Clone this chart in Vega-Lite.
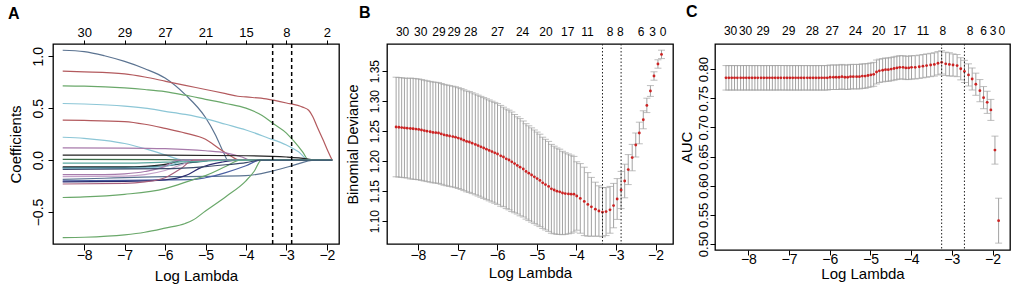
{
"$schema": "https://vega.github.io/schema/vega-lite/v6.json",
"padding": {"left": 7, "top": 3, "right": 0, "bottom": 0},
"spacing": 4,
"config": {
  "font": "Liberation Sans",
  "view": {"stroke": "black", "strokeWidth": 1.3},
  "axis": {"domain": false, "grid": false, "tickColor": "black", "tickWidth": 1, "labelColor": "black", "titleColor": "black", "labelFont": "Liberation Sans", "titleFont": "Liberation Sans", "titleFontWeight": "normal", "labelFlush": false, "labelOverlap": false},
  "title": {"anchor": "start", "frame": "bounds", "fontSize": 16, "fontWeight": "bold", "offset": 0, "font": "Liberation Sans", "color": "black"}
},
"datasets": {
  "coef": [
    {"id":"L1","x":-8.53,"y":1.058},{"id":"L1","x":-8,"y":1.045},{"id":"L1","x":-7.5,"y":1.005},{"id":"L1","x":-7,"y":0.95},{"id":"L1","x":-6.5,"y":0.88},{"id":"L1","x":-6,"y":0.79},{"id":"L1","x":-5.5,"y":0.63},{"id":"L1","x":-5,"y":0.41},{"id":"L1","x":-4.75,"y":0.24},{"id":"L1","x":-4.55,"y":0.07},{"id":"L1","x":-4.45,"y":0},{"id":"L1","x":-1.87,"y":0},
    {"id":"L2","x":-8.53,"y":0.856},{"id":"L2","x":-8,"y":0.85},{"id":"L2","x":-7,"y":0.83},{"id":"L2","x":-6.5,"y":0.8},{"id":"L2","x":-6,"y":0.76},{"id":"L2","x":-5.5,"y":0.72},{"id":"L2","x":-5,"y":0.68},{"id":"L2","x":-4.5,"y":0.64},{"id":"L2","x":-4.2,"y":0.615},{"id":"L2","x":-4,"y":0.608},{"id":"L2","x":-3.5,"y":0.59},{"id":"L2","x":-3,"y":0.55},{"id":"L2","x":-2.6,"y":0.51},{"id":"L2","x":-2.45,"y":0.48},{"id":"L2","x":-2.35,"y":0.42},{"id":"L2","x":-2.24,"y":0.32},{"id":"L2","x":-2.1,"y":0.2},{"id":"L2","x":-2,"y":0.11},{"id":"L2","x":-1.87,"y":0},
    {"id":"L3","x":-8.53,"y":0.715},{"id":"L3","x":-8,"y":0.712},{"id":"L3","x":-7,"y":0.695},{"id":"L3","x":-6.5,"y":0.68},{"id":"L3","x":-6,"y":0.66},{"id":"L3","x":-5.5,"y":0.625},{"id":"L3","x":-5,"y":0.585},{"id":"L3","x":-4.5,"y":0.545},{"id":"L3","x":-4,"y":0.5},{"id":"L3","x":-3.6,"y":0.43},{"id":"L3","x":-3.32,"y":0.35},{"id":"L3","x":-3,"y":0.26},{"id":"L3","x":-2.82,"y":0.185},{"id":"L3","x":-2.6,"y":0.08},{"id":"L3","x":-2.45,"y":0},{"id":"L3","x":-1.87,"y":0},
    {"id":"L4","x":-8.53,"y":0.545},{"id":"L4","x":-8,"y":0.54},{"id":"L4","x":-7,"y":0.52},{"id":"L4","x":-6.5,"y":0.5},{"id":"L4","x":-6,"y":0.47},{"id":"L4","x":-5.5,"y":0.44},{"id":"L4","x":-5,"y":0.4},{"id":"L4","x":-4.5,"y":0.345},{"id":"L4","x":-4,"y":0.29},{"id":"L4","x":-3.5,"y":0.22},{"id":"L4","x":-3,"y":0.145},{"id":"L4","x":-2.7,"y":0.08},{"id":"L4","x":-2.45,"y":0},{"id":"L4","x":-1.87,"y":0},
    {"id":"L5","x":-8.53,"y":0.385},{"id":"L5","x":-8,"y":0.382},{"id":"L5","x":-7,"y":0.37},{"id":"L5","x":-6.5,"y":0.345},{"id":"L5","x":-6,"y":0.305},{"id":"L5","x":-5.5,"y":0.26},{"id":"L5","x":-5,"y":0.2},{"id":"L5","x":-4.66,"y":0.11},{"id":"L5","x":-4.4,"y":0.045},{"id":"L5","x":-4.15,"y":0},{"id":"L5","x":-1.87,"y":0},
    {"id":"L6","x":-8.53,"y":0.22},{"id":"L6","x":-8,"y":0.21},{"id":"L6","x":-7.5,"y":0.19},{"id":"L6","x":-7,"y":0.16},{"id":"L6","x":-6.5,"y":0.11},{"id":"L6","x":-6,"y":0.05},{"id":"L6","x":-5.7,"y":0.012},{"id":"L6","x":-5.5,"y":0},{"id":"L6","x":-1.87,"y":0},
    {"id":"L7","x":-8.53,"y":0.118},{"id":"L7","x":-7,"y":0.116},{"id":"L7","x":-6,"y":0.11},{"id":"L7","x":-5,"y":0.09},{"id":"L7","x":-4.5,"y":0.07},{"id":"L7","x":-4.1,"y":0.03},{"id":"L7","x":-3.9,"y":0},{"id":"L7","x":-1.87,"y":0},
    {"id":"L8","x":-8.53,"y":0.048},{"id":"L8","x":-6,"y":0.047},{"id":"L8","x":-4,"y":0.042},{"id":"L8","x":-3,"y":0.03},{"id":"L8","x":-2.5,"y":0.013},{"id":"L8","x":-2.3,"y":0},{"id":"L8","x":-1.87,"y":0},
    {"id":"L9","x":-8.53,"y":0.007},{"id":"L9","x":-6,"y":0.005},{"id":"L9","x":-5.5,"y":0},{"id":"L9","x":-1.87,"y":0},
    {"id":"L10","x":-8.53,"y":-0.065},{"id":"L10","x":-7,"y":-0.065},{"id":"L10","x":-6.5,"y":-0.06},{"id":"L10","x":-6,"y":-0.042},{"id":"L10","x":-5.7,"y":-0.015},{"id":"L10","x":-5.5,"y":0},{"id":"L10","x":-1.87,"y":0},
    {"id":"L11","x":-8.53,"y":-0.072},{"id":"L11","x":-7,"y":-0.071},{"id":"L11","x":-6,"y":-0.056},{"id":"L11","x":-5.5,"y":-0.03},{"id":"L11","x":-5,"y":-0.008},{"id":"L11","x":-4.9,"y":0},{"id":"L11","x":-1.87,"y":0},
    {"id":"L12","x":-8.53,"y":-0.08},{"id":"L12","x":-7,"y":-0.079},{"id":"L12","x":-6,"y":-0.062},{"id":"L12","x":-5.8,"y":-0.04},{"id":"L12","x":-5.5,"y":0},{"id":"L12","x":-1.87,"y":0},
    {"id":"L13","x":-8.53,"y":-0.14},{"id":"L13","x":-7.5,"y":-0.139},{"id":"L13","x":-7,"y":-0.132},{"id":"L13","x":-6.5,"y":-0.11},{"id":"L13","x":-6,"y":-0.06},{"id":"L13","x":-5.7,"y":0},{"id":"L13","x":-1.87,"y":0},
    {"id":"L14","x":-8.53,"y":-0.16},{"id":"L14","x":-7,"y":-0.155},{"id":"L14","x":-6.5,"y":-0.14},{"id":"L14","x":-6,"y":-0.1},{"id":"L14","x":-5.5,"y":-0.03},{"id":"L14","x":-5.3,"y":0},{"id":"L14","x":-1.87,"y":0},
    {"id":"L15","x":-8.53,"y":-0.185},{"id":"L15","x":-7.5,"y":-0.175},{"id":"L15","x":-7,"y":-0.168},{"id":"L15","x":-6,"y":-0.16},{"id":"L15","x":-5,"y":-0.157},{"id":"L15","x":-4,"y":-0.15},{"id":"L15","x":-3.34,"y":-0.105},{"id":"L15","x":-2.87,"y":-0.055},{"id":"L15","x":-2.3,"y":0},{"id":"L15","x":-1.87,"y":0},
    {"id":"L16","x":-8.53,"y":-0.2},{"id":"L16","x":-7,"y":-0.195},{"id":"L16","x":-6,"y":-0.19},{"id":"L16","x":-5.32,"y":-0.188},{"id":"L16","x":-5,"y":-0.17},{"id":"L16","x":-4.5,"y":-0.12},{"id":"L16","x":-4,"y":-0.055},{"id":"L16","x":-3.65,"y":0},{"id":"L16","x":-1.87,"y":0},
    {"id":"L17","x":-8.53,"y":-0.21},{"id":"L17","x":-7,"y":-0.205},{"id":"L17","x":-6,"y":-0.19},{"id":"L17","x":-5.5,"y":-0.15},{"id":"L17","x":-5.1,"y":-0.07},{"id":"L17","x":-4.6,"y":-0.02},{"id":"L17","x":-4.2,"y":0},{"id":"L17","x":-1.87,"y":0},
    {"id":"L18","x":-8.53,"y":-0.23},{"id":"L18","x":-7,"y":-0.225},{"id":"L18","x":-6.5,"y":-0.21},{"id":"L18","x":-6,"y":-0.17},{"id":"L18","x":-5.6,"y":-0.08},{"id":"L18","x":-5.3,"y":0},{"id":"L18","x":-1.87,"y":0},
    {"id":"L19","x":-8.53,"y":-0.36},{"id":"L19","x":-8,"y":-0.355},{"id":"L19","x":-7,"y":-0.33},{"id":"L19","x":-6,"y":-0.275},{"id":"L19","x":-5.32,"y":-0.19},{"id":"L19","x":-5,"y":-0.15},{"id":"L19","x":-4.49,"y":-0.06},{"id":"L19","x":-4.15,"y":0},{"id":"L19","x":-1.87,"y":0},
    {"id":"L20","x":-8.53,"y":-0.747},{"id":"L20","x":-8,"y":-0.743},{"id":"L20","x":-7,"y":-0.72},{"id":"L20","x":-6.5,"y":-0.695},{"id":"L20","x":-6,"y":-0.655},{"id":"L20","x":-5.5,"y":-0.61},{"id":"L20","x":-5.32,"y":-0.58},{"id":"L20","x":-5,"y":-0.49},{"id":"L20","x":-4.49,"y":-0.35},{"id":"L20","x":-4,"y":-0.2},{"id":"L20","x":-3.8,"y":-0.11},{"id":"L20","x":-3.62,"y":0},{"id":"L20","x":-1.87,"y":0},
    {"id":"L21","x":-8.53,"y":-0.03},{"id":"L21","x":-7,"y":-0.03},{"id":"L21","x":-6,"y":-0.02},{"id":"L21","x":-5,"y":-0.01},{"id":"L21","x":-4.5,"y":0},{"id":"L21","x":-1.87,"y":0},
    {"id":"L22","x":-8.53,"y":-0.09},{"id":"L22","x":-6,"y":-0.083},{"id":"L22","x":-5,"y":-0.062},{"id":"L22","x":-4.5,"y":-0.045},{"id":"L22","x":-4,"y":-0.025},{"id":"L22","x":-3.65,"y":0},{"id":"L22","x":-1.87,"y":0}
  ],
  "vA": [{"v": -3.34}, {"v": -2.87}],
  "vB": [{"v": -3.34}, {"v": -2.87}],
  "vC": [{"v": -3.25}, {"v": -2.69}],
  "bdev": [
    {"x":-8.55,"m":1.257,"lo":1.174,"hi":1.34},
    {"x":-8.48,"m":1.2565,"lo":1.1735,"hi":1.3395},
    {"x":-8.41,"m":1.256,"lo":1.173,"hi":1.339},
    {"x":-8.34,"m":1.2555,"lo":1.1725,"hi":1.3385},
    {"x":-8.27,"m":1.255,"lo":1.172,"hi":1.338},
    {"x":-8.19,"m":1.2545,"lo":1.1705,"hi":1.3385},
    {"x":-8.12,"m":1.254,"lo":1.17,"hi":1.338},
    {"x":-8.05,"m":1.2535,"lo":1.1695,"hi":1.3375},
    {"x":-7.98,"m":1.253,"lo":1.169,"hi":1.337},
    {"x":-7.91,"m":1.252,"lo":1.168,"hi":1.336},
    {"x":-7.84,"m":1.251,"lo":1.167,"hi":1.335},
    {"x":-7.77,"m":1.25,"lo":1.166,"hi":1.334},
    {"x":-7.69,"m":1.249,"lo":1.165,"hi":1.333},
    {"x":-7.62,"m":1.248,"lo":1.164,"hi":1.332},
    {"x":-7.55,"m":1.2475,"lo":1.1635,"hi":1.3315},
    {"x":-7.48,"m":1.247,"lo":1.163,"hi":1.331},
    {"x":-7.41,"m":1.2455,"lo":1.1615,"hi":1.3295},
    {"x":-7.34,"m":1.244,"lo":1.16,"hi":1.328},
    {"x":-7.27,"m":1.243,"lo":1.159,"hi":1.327},
    {"x":-7.2,"m":1.242,"lo":1.158,"hi":1.326},
    {"x":-7.12,"m":1.241,"lo":1.157,"hi":1.325},
    {"x":-7.05,"m":1.24,"lo":1.156,"hi":1.324},
    {"x":-6.98,"m":1.2385,"lo":1.1545,"hi":1.3225},
    {"x":-6.91,"m":1.237,"lo":1.153,"hi":1.321},
    {"x":-6.84,"m":1.235,"lo":1.151,"hi":1.319},
    {"x":-6.77,"m":1.233,"lo":1.149,"hi":1.317},
    {"x":-6.7,"m":1.232,"lo":1.148,"hi":1.316},
    {"x":-6.63,"m":1.23,"lo":1.146,"hi":1.314},
    {"x":-6.55,"m":1.228,"lo":1.144,"hi":1.312},
    {"x":-6.48,"m":1.226,"lo":1.142,"hi":1.31},
    {"x":-6.41,"m":1.224,"lo":1.14,"hi":1.308},
    {"x":-6.34,"m":1.222,"lo":1.138,"hi":1.306},
    {"x":-6.27,"m":1.22,"lo":1.136,"hi":1.304},
    {"x":-6.2,"m":1.218,"lo":1.134,"hi":1.302},
    {"x":-6.13,"m":1.216,"lo":1.132,"hi":1.3},
    {"x":-6.06,"m":1.214,"lo":1.13,"hi":1.298},
    {"x":-5.99,"m":1.212,"lo":1.128,"hi":1.296},
    {"x":-5.91,"m":1.209,"lo":1.125,"hi":1.293},
    {"x":-5.84,"m":1.207,"lo":1.124,"hi":1.29},
    {"x":-5.77,"m":1.204,"lo":1.121,"hi":1.287},
    {"x":-5.7,"m":1.202,"lo":1.119,"hi":1.285},
    {"x":-5.63,"m":1.199,"lo":1.116,"hi":1.282},
    {"x":-5.56,"m":1.196,"lo":1.114,"hi":1.278},
    {"x":-5.49,"m":1.193,"lo":1.112,"hi":1.274},
    {"x":-5.42,"m":1.19,"lo":1.109,"hi":1.271},
    {"x":-5.34,"m":1.187,"lo":1.107,"hi":1.267},
    {"x":-5.27,"m":1.183,"lo":1.1035,"hi":1.2625},
    {"x":-5.2,"m":1.18,"lo":1.101,"hi":1.259},
    {"x":-5.13,"m":1.177,"lo":1.0985,"hi":1.2555},
    {"x":-5.06,"m":1.174,"lo":1.096,"hi":1.252},
    {"x":-4.99,"m":1.171,"lo":1.0935,"hi":1.2485},
    {"x":-4.92,"m":1.168,"lo":1.091,"hi":1.245},
    {"x":-4.85,"m":1.164,"lo":1.088,"hi":1.24},
    {"x":-4.78,"m":1.161,"lo":1.0855,"hi":1.2365},
    {"x":-4.7,"m":1.158,"lo":1.083,"hi":1.233},
    {"x":-4.63,"m":1.154,"lo":1.08,"hi":1.228},
    {"x":-4.56,"m":1.152,"lo":1.079,"hi":1.225},
    {"x":-4.49,"m":1.15,"lo":1.078,"hi":1.222},
    {"x":-4.42,"m":1.149,"lo":1.078,"hi":1.22},
    {"x":-4.35,"m":1.147,"lo":1.0775,"hi":1.2165},
    {"x":-4.28,"m":1.146,"lo":1.078,"hi":1.214},
    {"x":-4.2,"m":1.1455,"lo":1.079,"hi":1.212},
    {"x":-4.13,"m":1.145,"lo":1.08,"hi":1.21},
    {"x":-4.06,"m":1.145,"lo":1.082,"hi":1.208},
    {"x":-3.99,"m":1.142,"lo":1.085,"hi":1.199},
    {"x":-3.9,"m":1.138,"lo":1.08,"hi":1.196},
    {"x":-3.8,"m":1.133,"lo":1.076,"hi":1.19},
    {"x":-3.71,"m":1.128,"lo":1.075,"hi":1.181},
    {"x":-3.62,"m":1.124,"lo":1.075,"hi":1.173},
    {"x":-3.52,"m":1.12,"lo":1.075,"hi":1.165},
    {"x":-3.43,"m":1.117,"lo":1.075,"hi":1.159},
    {"x":-3.34,"m":1.115,"lo":1.074,"hi":1.156},
    {"x":-3.25,"m":1.116,"lo":1.076,"hi":1.156},
    {"x":-3.15,"m":1.119,"lo":1.08,"hi":1.158},
    {"x":-3.06,"m":1.126,"lo":1.089,"hi":1.163},
    {"x":-2.97,"m":1.137,"lo":1.103,"hi":1.171},
    {"x":-2.87,"m":1.152,"lo":1.121,"hi":1.183},
    {"x":-2.78,"m":1.167,"lo":1.139,"hi":1.195},
    {"x":-2.69,"m":1.186,"lo":1.161,"hi":1.211},
    {"x":-2.59,"m":1.206,"lo":1.184,"hi":1.228},
    {"x":-2.5,"m":1.227,"lo":1.207,"hi":1.247},
    {"x":-2.41,"m":1.247,"lo":1.229,"hi":1.265},
    {"x":-2.31,"m":1.269,"lo":1.254,"hi":1.284},
    {"x":-2.22,"m":1.293,"lo":1.281,"hi":1.305},
    {"x":-2.13,"m":1.317,"lo":1.308,"hi":1.326},
    {"x":-2.04,"m":1.342,"lo":1.335,"hi":1.349},
    {"x":-1.94,"m":1.362,"lo":1.355,"hi":1.369},
    {"x":-1.85,"m":1.378,"lo":1.371,"hi":1.385}
  ],
  "auc": [
    {"x":-8.55,"m":0.785,"lo":0.764,"hi":0.806},
    {"x":-8.48,"m":0.785,"lo":0.764,"hi":0.806},
    {"x":-8.41,"m":0.785,"lo":0.764,"hi":0.806},
    {"x":-8.34,"m":0.785,"lo":0.764,"hi":0.806},
    {"x":-8.27,"m":0.785,"lo":0.764,"hi":0.806},
    {"x":-8.19,"m":0.785,"lo":0.764,"hi":0.806},
    {"x":-8.12,"m":0.785,"lo":0.764,"hi":0.806},
    {"x":-8.05,"m":0.785,"lo":0.764,"hi":0.806},
    {"x":-7.98,"m":0.785,"lo":0.764,"hi":0.806},
    {"x":-7.91,"m":0.785,"lo":0.764,"hi":0.806},
    {"x":-7.84,"m":0.785,"lo":0.764,"hi":0.806},
    {"x":-7.77,"m":0.785,"lo":0.764,"hi":0.806},
    {"x":-7.69,"m":0.785,"lo":0.764,"hi":0.806},
    {"x":-7.62,"m":0.785,"lo":0.764,"hi":0.806},
    {"x":-7.55,"m":0.785,"lo":0.764,"hi":0.806},
    {"x":-7.48,"m":0.785,"lo":0.764,"hi":0.806},
    {"x":-7.41,"m":0.785,"lo":0.764,"hi":0.806},
    {"x":-7.34,"m":0.785,"lo":0.764,"hi":0.806},
    {"x":-7.27,"m":0.785,"lo":0.764,"hi":0.806},
    {"x":-7.2,"m":0.785,"lo":0.764,"hi":0.806},
    {"x":-7.12,"m":0.785,"lo":0.764,"hi":0.806},
    {"x":-7.05,"m":0.785,"lo":0.764,"hi":0.806},
    {"x":-6.98,"m":0.785,"lo":0.764,"hi":0.806},
    {"x":-6.91,"m":0.785,"lo":0.764,"hi":0.806},
    {"x":-6.84,"m":0.785,"lo":0.764,"hi":0.806},
    {"x":-6.77,"m":0.785,"lo":0.764,"hi":0.806},
    {"x":-6.7,"m":0.785,"lo":0.764,"hi":0.806},
    {"x":-6.63,"m":0.785,"lo":0.764,"hi":0.806},
    {"x":-6.55,"m":0.785,"lo":0.764,"hi":0.806},
    {"x":-6.48,"m":0.785,"lo":0.764,"hi":0.806},
    {"x":-6.41,"m":0.785,"lo":0.764,"hi":0.806},
    {"x":-6.34,"m":0.785,"lo":0.764,"hi":0.806},
    {"x":-6.27,"m":0.785,"lo":0.764,"hi":0.806},
    {"x":-6.2,"m":0.785,"lo":0.764,"hi":0.806},
    {"x":-6.13,"m":0.785,"lo":0.764,"hi":0.806},
    {"x":-6.06,"m":0.785,"lo":0.764,"hi":0.806},
    {"x":-5.99,"m":0.786,"lo":0.765,"hi":0.807},
    {"x":-5.91,"m":0.786,"lo":0.765,"hi":0.807},
    {"x":-5.84,"m":0.786,"lo":0.765,"hi":0.807},
    {"x":-5.77,"m":0.786,"lo":0.765,"hi":0.807},
    {"x":-5.7,"m":0.787,"lo":0.766,"hi":0.808},
    {"x":-5.63,"m":0.786,"lo":0.765,"hi":0.807},
    {"x":-5.56,"m":0.786,"lo":0.765,"hi":0.807},
    {"x":-5.49,"m":0.787,"lo":0.766,"hi":0.808},
    {"x":-5.42,"m":0.787,"lo":0.766,"hi":0.808},
    {"x":-5.34,"m":0.787,"lo":0.766,"hi":0.808},
    {"x":-5.27,"m":0.787,"lo":0.766,"hi":0.808},
    {"x":-5.2,"m":0.788,"lo":0.767,"hi":0.809},
    {"x":-5.13,"m":0.788,"lo":0.767,"hi":0.809},
    {"x":-5.06,"m":0.789,"lo":0.7685,"hi":0.8095},
    {"x":-4.99,"m":0.79,"lo":0.7695,"hi":0.8105},
    {"x":-4.92,"m":0.791,"lo":0.7705,"hi":0.8115},
    {"x":-4.85,"m":0.795,"lo":0.7745,"hi":0.8155},
    {"x":-4.78,"m":0.797,"lo":0.777,"hi":0.817},
    {"x":-4.7,"m":0.798,"lo":0.778,"hi":0.818},
    {"x":-4.63,"m":0.799,"lo":0.779,"hi":0.819},
    {"x":-4.56,"m":0.799,"lo":0.779,"hi":0.819},
    {"x":-4.49,"m":0.8,"lo":0.78,"hi":0.82},
    {"x":-4.42,"m":0.801,"lo":0.781,"hi":0.821},
    {"x":-4.35,"m":0.802,"lo":0.782,"hi":0.822},
    {"x":-4.28,"m":0.803,"lo":0.783,"hi":0.823},
    {"x":-4.2,"m":0.803,"lo":0.783,"hi":0.823},
    {"x":-4.13,"m":0.802,"lo":0.782,"hi":0.822},
    {"x":-4.06,"m":0.802,"lo":0.782,"hi":0.822},
    {"x":-3.99,"m":0.803,"lo":0.783,"hi":0.823},
    {"x":-3.9,"m":0.803,"lo":0.783,"hi":0.823},
    {"x":-3.8,"m":0.804,"lo":0.784,"hi":0.824},
    {"x":-3.71,"m":0.805,"lo":0.785,"hi":0.825},
    {"x":-3.62,"m":0.806,"lo":0.786,"hi":0.826},
    {"x":-3.52,"m":0.807,"lo":0.787,"hi":0.827},
    {"x":-3.43,"m":0.808,"lo":0.788,"hi":0.828},
    {"x":-3.34,"m":0.81,"lo":0.79,"hi":0.83},
    {"x":-3.25,"m":0.8115,"lo":0.7915,"hi":0.8315},
    {"x":-3.15,"m":0.809,"lo":0.789,"hi":0.829},
    {"x":-3.06,"m":0.808,"lo":0.788,"hi":0.828},
    {"x":-2.97,"m":0.807,"lo":0.788,"hi":0.826},
    {"x":-2.87,"m":0.806,"lo":0.787,"hi":0.825},
    {"x":-2.78,"m":0.8005,"lo":0.7815,"hi":0.8195},
    {"x":-2.69,"m":0.796,"lo":0.777,"hi":0.815},
    {"x":-2.59,"m":0.79,"lo":0.771,"hi":0.809},
    {"x":-2.5,"m":0.783,"lo":0.764,"hi":0.802},
    {"x":-2.41,"m":0.774,"lo":0.755,"hi":0.793},
    {"x":-2.31,"m":0.763,"lo":0.744,"hi":0.782},
    {"x":-2.22,"m":0.751,"lo":0.732,"hi":0.77},
    {"x":-2.13,"m":0.743,"lo":0.724,"hi":0.762},
    {"x":-2.04,"m":0.73,"lo":0.712,"hi":0.748},
    {"x":-1.94,"m":0.661,"lo":0.637,"hi":0.685},
    {"x":-1.85,"m":0.54,"lo":0.5015,"hi":0.5785}
  ]
},
"hconcat": [
  {
    "width": 286, "height": 200,
    "title": {"text": "A"},
    "layer": [
      {
        "data": {"name": "coef"},
        "mark": {"type": "line", "interpolate": "monotone", "strokeWidth": 1.2},
        "encoding": {
          "x": {"field": "x", "type": "quantitative", "scale": {"domain": [-8.77, -1.7], "nice": false, "zero": false},
                "axis": {"orient": "bottom", "values": [-8,-7,-6,-5,-4,-3,-2], "format": "d", "title": "Log Lambda", "tickSize": 6, "labelPadding": -2, "labelFontSize": 14, "titleFontSize": 15, "titlePadding": 6}},
          "y": {"field": "y", "type": "quantitative", "scale": {"domain": [-0.808, 1.118], "nice": false, "zero": false},
                "axis": {"values": [-0.5, 0, 0.5, 1], "format": ".1f", "title": "Coefficients", "tickSize": 5, "labelPadding": 3, "labelFontSize": 14, "labelAngle": 270, "labelAlign": "center", "labelBaseline": "bottom", "titleFontSize": 15, "titlePadding": 8}},
          "color": {"field": "id", "type": "nominal", "legend": null,
                    "scale": {"domain": ["L1","L2","L3","L4","L5","L6","L7","L8","L9","L10","L11","L12","L13","L14","L15","L16","L17","L18","L19","L20","L21","L22"],
                              "range": ["#5b7391","#b35a5e","#6aa86a","#8cc6d6","#b35a5e","#8cc6d6","#a77aab","#222222","#3e6e4c","#222222","#2b5a64","#8cc6d6","#a77aab","#c4a2c9","#5b7391","#4b60a3","#2c2c70","#a8607c","#6aa86a","#6aa86a","#5ba8a0","#3b4a6b"]}}
        }
      },
      {
        "data": {"name": "vA"},
        "mark": {"type": "rule", "strokeDash": [4, 3], "strokeWidth": 1.5, "color": "black"},
        "encoding": {
          "x": {"field": "v", "type": "quantitative", "scale": {"domain": [-8.77, -1.7], "nice": false, "zero": false},
                "axis": {"orient": "top", "values": [-8,-7,-6,-5,-4,-3,-2], "labelExpr": "['30','29','27','21','15','8','2'][datum.value + 8]", "title": null, "tickSize": 4, "labelPadding": 1, "labelFontSize": 13}}
        }
      }
    ],
    "resolve": {"axis": {"x": "independent"}}
  },
  {
    "width": 286, "height": 200,
    "title": {"text": "B", "dx": 14},
    "layer": [
      {
        "data": {"name": "bdev"},
        "mark": {"type": "rule", "color": "#a3a3a3", "strokeWidth": 1},
        "encoding": {
          "x": {"field": "x", "type": "quantitative", "scale": {"domain": [-8.78, -1.56], "nice": false, "zero": false},
                "axis": {"orient": "bottom", "values": [-8,-7,-6,-5,-4,-3,-2], "format": "d", "title": "Log Lambda", "tickSize": 6, "labelPadding": -2, "labelFontSize": 14, "titleFontSize": 15, "titlePadding": 3}},
          "y": {"field": "lo", "type": "quantitative", "scale": {"domain": [1.062, 1.3953], "nice": false, "zero": false},
                "axis": {"values": [1.1, 1.15, 1.2, 1.25, 1.3, 1.35], "format": ".2f", "title": "Binomial Deviance", "tickSize": 5, "labelPadding": 0.5, "labelFontSize": 12, "labelAngle": 270, "labelAlign": "center", "labelBaseline": "bottom", "titleFontSize": 14.5, "titlePadding": 8.5}},
          "y2": {"field": "hi"}
        }
      },
      {
        "data": {"name": "bdev"},
        "mark": {"type": "tick", "orient": "horizontal", "color": "#a3a3a3", "size": 7, "thickness": 1},
        "encoding": {
          "x": {"field": "x", "type": "quantitative", "axis": null},
          "y": {"field": "hi", "type": "quantitative", "axis": null}
        }
      },
      {
        "data": {"name": "bdev"},
        "mark": {"type": "tick", "orient": "horizontal", "color": "#a3a3a3", "size": 7, "thickness": 1},
        "encoding": {
          "x": {"field": "x", "type": "quantitative", "axis": null},
          "y": {"field": "lo", "type": "quantitative", "axis": null}
        }
      },
      {
        "data": {"name": "bdev"},
        "mark": {"type": "circle", "color": "#cc2222", "size": 8, "opacity": 1},
        "encoding": {
          "x": {"field": "x", "type": "quantitative", "axis": null},
          "y": {"field": "m", "type": "quantitative", "axis": null}
        }
      },
      {
        "data": {"name": "vB"},
        "mark": {"type": "rule", "strokeDash": [1.5, 2], "strokeWidth": 1, "color": "#222222"},
        "encoding": {
          "x": {"field": "v", "type": "quantitative", "scale": {"domain": [-8.78, -1.56], "nice": false, "zero": false},
                "axis": {"orient": "top", "values": [-8.4,-7.94,-7.48,-7.1,-6.68,-6,-5.37,-4.78,-4.23,-3.73,-3.16,-2.9,-2.38,-2.09,-1.82],
                         "labelExpr": "['30','30','29','29','28','27','24','20','17','11','8','8','6','3','0'][indexof([-8.4,-7.94,-7.48,-7.1,-6.68,-6,-5.37,-4.78,-4.23,-3.73,-3.16,-2.9,-2.38,-2.09,-1.82], datum.value)]",
                         "title": null, "ticks": false, "labelPadding": 6, "labelFontSize": 12}}
        }
      }
    ],
    "resolve": {"axis": {"x": "independent", "y": "independent"}}
  },
  {
    "width": 295, "height": 206,
    "title": {"text": "C", "dx": 7},
    "layer": [
      {
        "data": {"name": "auc"},
        "mark": {"type": "rule", "color": "#a3a3a3", "strokeWidth": 1},
        "encoding": {
          "x": {"field": "x", "type": "quantitative", "scale": {"domain": [-8.82, -1.57], "nice": false, "zero": false},
                "axis": {"orient": "bottom", "values": [-8,-7,-6,-5,-4,-3,-2], "format": "d", "title": "Log Lambda", "tickSize": 5, "labelPadding": -3, "labelFontSize": 14, "titleFontSize": 15, "titlePadding": 0}},
          "y": {"field": "lo", "type": "quantitative", "scale": {"domain": [0.4897, 0.843], "nice": false, "zero": false},
                "axis": {"values": [0.5, 0.55, 0.6, 0.65, 0.7, 0.75, 0.8], "format": ".2f", "title": "AUC", "tickSize": 5, "labelPadding": 0, "labelFontSize": 13, "labelAngle": 270, "labelAlign": "center", "labelBaseline": "bottom", "titleFontSize": 15, "titlePadding": 3}},
          "y2": {"field": "hi"}
        }
      },
      {
        "data": {"name": "auc"},
        "mark": {"type": "tick", "orient": "horizontal", "color": "#a3a3a3", "size": 7, "thickness": 1},
        "encoding": {
          "x": {"field": "x", "type": "quantitative", "axis": null},
          "y": {"field": "hi", "type": "quantitative", "axis": null}
        }
      },
      {
        "data": {"name": "auc"},
        "mark": {"type": "tick", "orient": "horizontal", "color": "#a3a3a3", "size": 7, "thickness": 1},
        "encoding": {
          "x": {"field": "x", "type": "quantitative", "axis": null},
          "y": {"field": "lo", "type": "quantitative", "axis": null}
        }
      },
      {
        "data": {"name": "auc"},
        "mark": {"type": "circle", "color": "#cc2222", "size": 8, "opacity": 1},
        "encoding": {
          "x": {"field": "x", "type": "quantitative", "axis": null},
          "y": {"field": "m", "type": "quantitative", "axis": null}
        }
      },
      {
        "data": {"name": "vC"},
        "mark": {"type": "rule", "strokeDash": [1.5, 2], "strokeWidth": 1, "color": "#222222"},
        "encoding": {
          "x": {"field": "v", "type": "quantitative", "scale": {"domain": [-8.82, -1.57], "nice": false, "zero": false},
                "axis": {"orient": "top", "values": [-8.45,-8.08,-7.65,-7.02,-6.44,-5.95,-5.38,-4.81,-4.29,-3.72,-3.23,-2.56,-2.23,-2,-1.78],
                         "labelExpr": "['30','30','29','29','28','27','24','20','17','11','8','8','6','3','0'][indexof([-8.45,-8.08,-7.65,-7.02,-6.44,-5.95,-5.38,-4.81,-4.29,-3.72,-3.23,-2.56,-2.23,-2,-1.78], datum.value)]",
                         "title": null, "ticks": false, "labelPadding": 7, "labelFontSize": 12}}
        }
      }
    ],
    "resolve": {"axis": {"x": "independent", "y": "independent"}}
  }
]
}
